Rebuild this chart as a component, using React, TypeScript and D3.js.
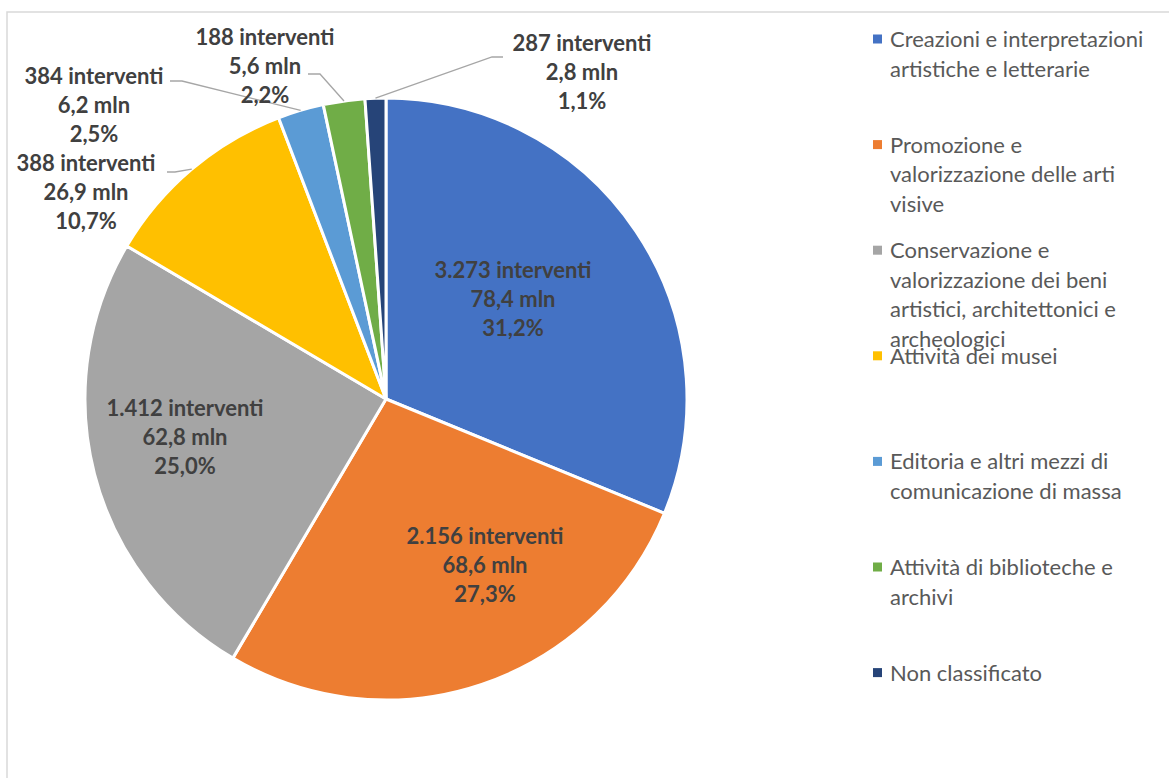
import React from 'react';
import * as d3 from 'd3';

const categories = [
  'Creazioni e interpretazioni artistiche e letterarie',
  'Promozione e valorizzazione delle arti visive',
  'Conservazione e valorizzazione dei beni artistici, architettonici e archeologici',
  'Attività dei musei',
  'Editoria e altri mezzi di comunicazione di massa',
  'Attività di biblioteche e archivi',
  'Non classificato',
];
// legend text as it wraps in the original
const legendLines = [
  ['Creazioni e interpretazioni', 'artistiche e letterarie'],
  ['Promozione e', 'valorizzazione delle arti', 'visive'],
  ['Conservazione e', 'valorizzazione dei beni', 'artistici, architettonici e', 'archeologici'],
  ['Attività dei musei'],
  ['Editoria e altri mezzi di', 'comunicazione di massa'],
  ['Attività di biblioteche e', 'archivi'],
  ['Non classificato'],
];
const interventi = [3273, 2156, 1412, 388, 384, 188, 287];
const mln = [78.4, 68.6, 62.8, 26.9, 6.2, 5.6, 2.8];
const colors = ['#4472C4', '#ED7D31', '#A5A5A5', '#FFC000', '#5B9BD5', '#70AD47', '#264478'];

const W = 1169;
const H = 778;
const cx = 386;
const cy = 399;
const R = 301;
const FONT = 'Lato, "Open Sans", sans-serif';

// label centres (middle line) placed like the original
const labelPos: [number, number][] = [
  [513, 299], [485, 565], [185, 437], [86, 192], [94, 105], [265, 66], [582, 72],
];
// leader lines for the outside labels: [elbow, end]
const leaders: Record<number, [[number, number], [number, number]]> = {
  3: [[175, 172], [167, 172]],
  4: [[182, 81], [170, 81]],
  5: [[320, 74], [308, 74]],
  6: [[492, 57], [503, 57]],
};

const it = d3.formatLocale({ decimal: ',', thousands: '.', grouping: [3], currency: ['€', ''] });
const fmtInt = it.format(',');
const fmtMln = it.format('.1f');
const fmtPct = it.format('.1%');

export default function App() {
  const total = d3.sum(mln);
  const pie = d3.pie<number>().sort(null).value((d) => d);
  const arcs = pie(mln);
  const arc = d3.arc<d3.PieArcDatum<number>>().innerRadius(0).outerRadius(R);
  const edge = d3.arc<d3.PieArcDatum<number>>().innerRadius(R).outerRadius(R);

  const lineH = 29;
  const legendY0 = 39;
  const legendStep = 105.6;

  return (
    <svg width={W} height={H} style={{ position: 'absolute', left: 0, top: 0, background: '#fff' }}>
      <rect x={7} y={12} width={W + 20} height={H + 20} fill="#fff" stroke="#D9D9D9" strokeWidth={1.5} />

      <g transform={`translate(${cx},${cy})`}>
        {arcs.map((a, i) => (
          <path key={i} d={arc(a) || ''} fill={colors[i]} stroke="#fff" strokeWidth={3} strokeLinejoin="round" />
        ))}
      </g>

      {/* leader lines */}
      {Object.entries(leaders).map(([k, [elbow, end]]) => {
        const i = +k;
        const [sx, sy] = edge.centroid(arcs[i]);
        const path = d3.line()([[cx + sx, cy + sy], elbow, end]);
        return <path key={k} d={path || ''} fill="none" stroke="#A6A6A6" strokeWidth={1.3} />;
      })}

      {/* data labels */}
      {arcs.map((a, i) => {
        const [lx, ly] = labelPos[i];
        const lines = [`${fmtInt(interventi[i])} interventi`, `${fmtMln(mln[i])} mln`, fmtPct(a.value / total)];
        return (
          <text key={i} x={lx} textAnchor="middle" fontFamily={FONT} fontWeight="bold" fontSize={22} fill="#404040">
            {lines.map((t, j) => (
              <tspan key={j} x={lx} y={ly + 7.5 + (j - 1) * lineH}>{t}</tspan>
            ))}
          </text>
        );
      })}

      {/* legend */}
      {legendLines.map((lines, i) => {
        const y = legendY0 + i * legendStep;
        return (
          <g key={i}>
            <rect x={873} y={y - 4.5} width={9} height={9} fill={colors[i]}>
              <title>{categories[i]}</title>
            </rect>
            <text fontFamily={FONT} fontSize={22} fill="#595959">
              {lines.map((t, j) => (
                <tspan key={j} x={890} y={y + 8 + j * 29.5}>{t}</tspan>
              ))}
            </text>
          </g>
        );
      })}
    </svg>
  );
}
